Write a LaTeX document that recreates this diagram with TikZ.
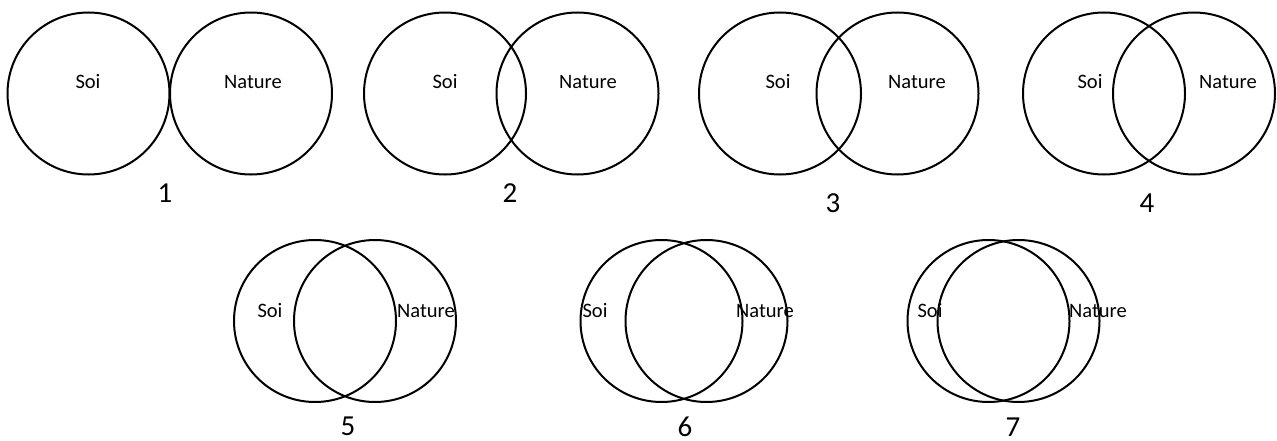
\documentclass[tikz,border=0pt]{standalone}
\usepackage{fontspec}
\setmainfont{Carlito}

\begin{document}
\begin{tikzpicture}[x=1pt,y=-1pt,
    ring/.style={circle,draw,line width=2pt,minimum size=162pt,inner sep=0pt},
    tag/.style={anchor=base,inner sep=0pt,font=\fontsize{20.5}{24}\selectfont},
    num/.style={anchor=base,inner sep=0pt,font=\fontsize{29}{34}\selectfont}]
    \useasboundingbox (0,0) rectangle (1277,441);
    % pair / soi x / nature x / circle y / soi text x / nature text x / text y / number x / number y
    \foreach \i/\xs/\xn/\yc/\ts/\tn/\yt/\xi/\yi in {
        1/88.5/251/93.5/88/253/89/165/202,
        2/445/577.5/93.5/445/588/89/510/202,
        3/780/897.5/93.5/778/917/89/833/212,
        4/1104/1194/93.5/1090/1228/89/1147/212,
        5/315/375/321/270/426/317/348/435,
        6/661.5/706.5/321/595/765/317/685/436,
        7/988.5/1018.5/321/930/1098/317/1013/436}
    {
        \node[ring] (soi\i) at (\xs,\yc) {};
        \node[ring] (nat\i) at (\xn,\yc) {};
        \node[tag] (soitxt\i) at (\ts,\yt) {Soi};
        \node[tag] (nattxt\i) at (\tn,\yt) {Nature};
        \node[num] (num\i) at (\xi,\yi) {\i};
    }
\end{tikzpicture}
\end{document}
